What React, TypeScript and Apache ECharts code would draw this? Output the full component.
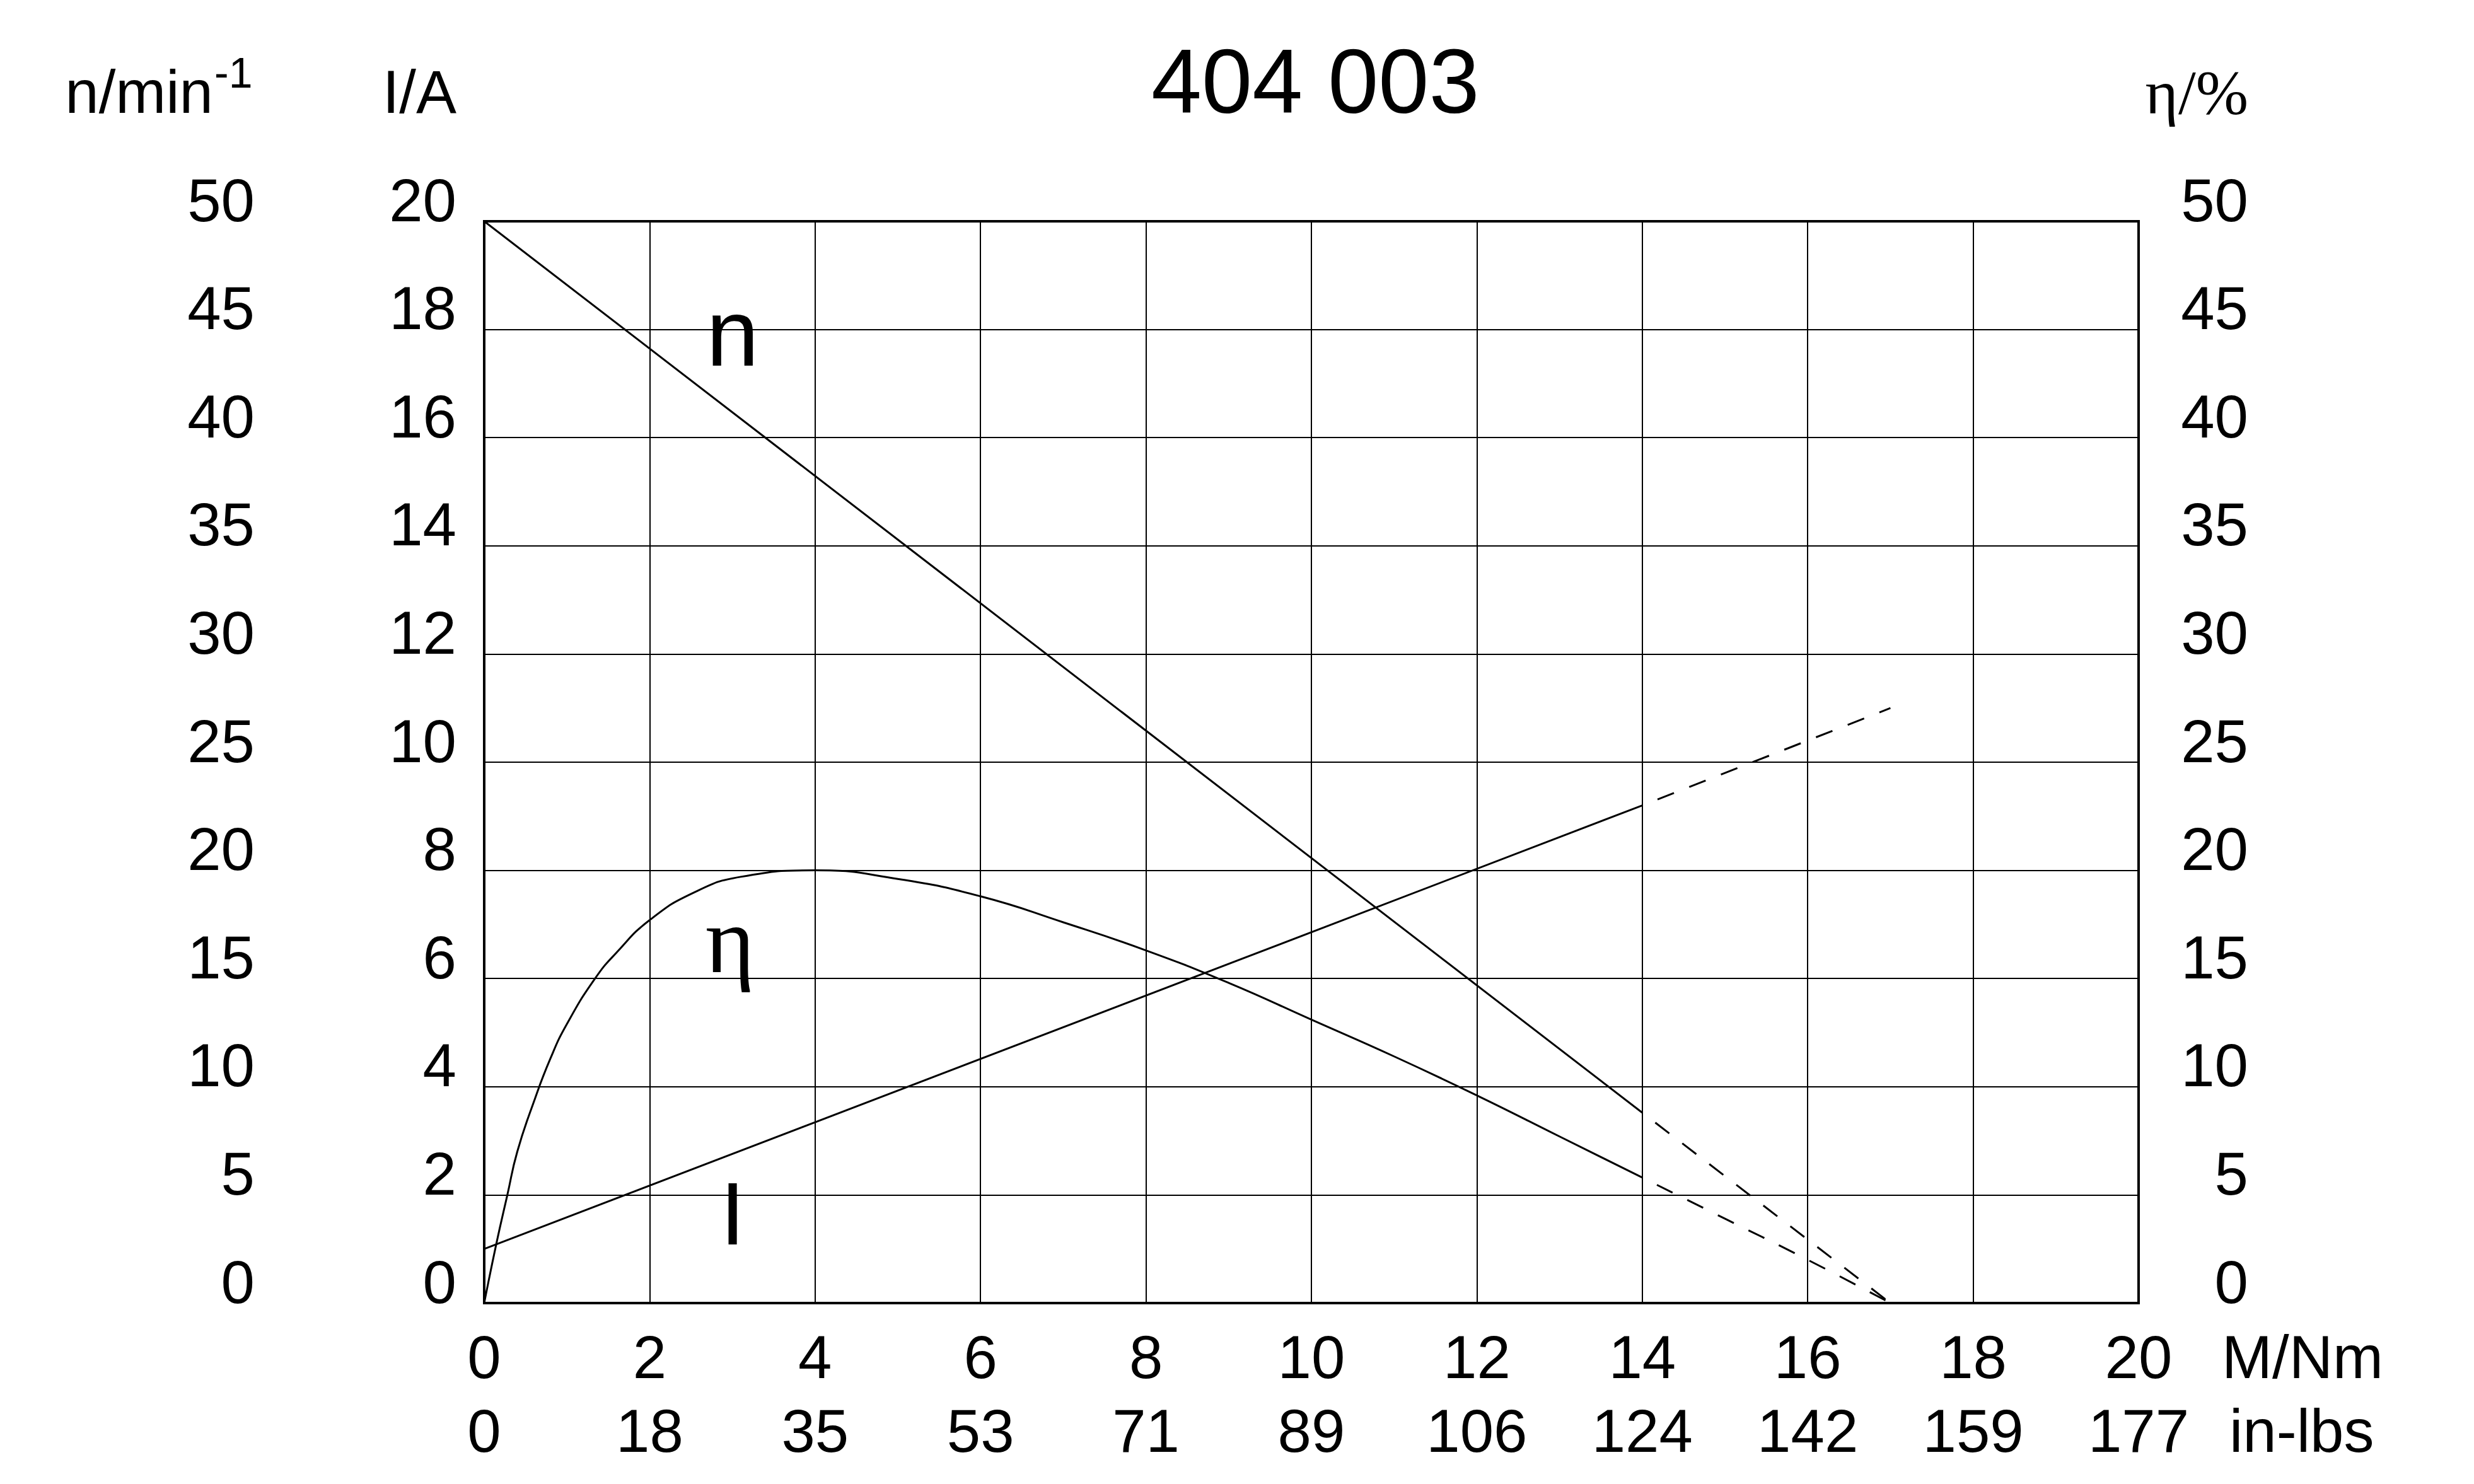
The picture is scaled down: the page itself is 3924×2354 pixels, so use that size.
import React, { useEffect, useRef } from 'react';
import * as echarts from 'echarts';

// ---- data ----
const torqueMin = 0;
const torqueMax = 20;
const torqueStep = 2;
const inLbsLabels = ['0', '18', '35', '53', '71', '89', '106', '124', '142', '159', '177'];

// speed n / min^-1 (left outer axis, 0..50)
const speedSolid = [[0, 50], [14, 8.8]];
const speedDashed = [[14, 8.8], [17, 0]];

// current I / A (left inner axis, 0..20)
const currentSolid = [[0, 1.0], [14, 9.2]];
const currentDashed = [[14, 9.2], [17, 11.0]];

// efficiency eta / % (right axis, 0..50)
const effSolid = [
  [0, 0], [0.15, 2.8], [0.28, 5.0], [0.4, 7.0], [0.6, 9.3], [0.8, 11.3], [1.0, 12.9],
  [1.34, 15.0], [1.6, 16.2], [2.0, 17.7], [2.55, 19.0], [3.1, 19.7], [4, 20.0],
  [5, 19.6], [6, 18.8], [7, 17.6], [8, 16.3], [9, 14.8], [10, 13.1], [11, 11.4],
  [12, 9.6], [13, 7.7], [14, 5.8],
];
const effDashed = [[14, 5.8], [15, 3.9], [16, 2.0], [17, 0]];

const FONT = 'Liberation Sans, Arial, sans-serif';
const SERIF = 'Liberation Serif, Times New Roman, serif';
const BLACK = '#000';

export default function App() {
  const ref = useRef<HTMLDivElement>(null);

  useEffect(() => {
    if (!ref.current) return;
    const chart = echarts.init(ref.current, undefined, { renderer: 'svg' });

    const labelBase = { color: BLACK, fontFamily: FONT, fontSize: 96 };
    const yLabel = (margin: number, align: string) => ({
      ...labelBase,
      margin,
      align,
      verticalAlign: 'bottom',
      lineHeight: 68,
    });
    const solid = { color: BLACK, width: 3, type: 'solid' };
    const dashed = { color: BLACK, width: 3, type: [28, 26], dashOffset: 28 };

    chart.setOption({
      animation: false,
      backgroundColor: '#fff',
      title: {
        text: '404 003',
        left: 1826,
        top: 57,
        padding: 0,
        textStyle: { color: BLACK, fontFamily: FONT, fontSize: 144, fontWeight: 'normal' },
      },
      grid: {
        left: 768,
        top: 351,
        width: 2624,
        height: 1716,
        show: true,
        borderColor: BLACK,
        borderWidth: 4,
        backgroundColor: 'transparent',
      },
      xAxis: [
        {
          type: 'value',
          min: torqueMin,
          max: torqueMax,
          interval: torqueStep,
          position: 'bottom',
          axisLine: { show: false },
          axisTick: { show: false },
          splitLine: { show: true, lineStyle: { color: BLACK, width: 2 } },
          axisLabel: { ...labelBase, margin: 85, verticalAlign: 'middle' },
        },
        {
          type: 'value',
          min: torqueMin,
          max: torqueMax,
          interval: torqueStep,
          position: 'bottom',
          axisLine: { show: false },
          axisTick: { show: false },
          splitLine: { show: false },
          axisLabel: {
            ...labelBase,
            margin: 202,
            verticalAlign: 'middle',
            formatter: (v: number) => inLbsLabels[Math.round(v / torqueStep)] ?? '',
          },
        },
      ],
      yAxis: [
        {
          type: 'value',
          min: 0,
          max: 50,
          interval: 5,
          position: 'left',
          axisLine: { show: false },
          axisTick: { show: false },
          splitLine: { show: true, lineStyle: { color: BLACK, width: 2 } },
          axisLabel: yLabel(364, 'right'),
        },
        {
          type: 'value',
          min: 0,
          max: 20,
          interval: 2,
          position: 'left',
          axisLine: { show: false },
          axisTick: { show: false },
          splitLine: { show: false },
          axisLabel: yLabel(44, 'right'),
        },
        {
          type: 'value',
          min: 0,
          max: 50,
          interval: 5,
          position: 'right',
          axisLine: { show: false },
          axisTick: { show: false },
          splitLine: { show: false },
          axisLabel: yLabel(174, 'right'),
        },
      ],
      series: [
        { name: 'n', type: 'line', xAxisIndex: 0, yAxisIndex: 0, data: speedSolid, symbol: 'none', lineStyle: solid },
        { name: 'n ext', type: 'line', xAxisIndex: 0, yAxisIndex: 0, data: speedDashed, symbol: 'none', lineStyle: dashed },
        { name: 'I', type: 'line', xAxisIndex: 0, yAxisIndex: 1, data: currentSolid, symbol: 'none', lineStyle: solid },
        { name: 'I ext', type: 'line', xAxisIndex: 0, yAxisIndex: 1, data: currentDashed, symbol: 'none', lineStyle: dashed },
        { name: 'η', type: 'line', xAxisIndex: 0, yAxisIndex: 2, data: effSolid, symbol: 'none', smooth: 0.5, lineStyle: solid },
        { name: 'η ext', type: 'line', xAxisIndex: 0, yAxisIndex: 2, data: effDashed, symbol: 'none', smooth: 0.5, lineStyle: dashed },
      ],
      graphic: [
        { type: 'text', x: 338, y: 145, style: { text: 'n/min', fill: BLACK, font: `96px ${FONT}`, align: 'right', verticalAlign: 'middle' } },
        { type: 'text', x: 340, y: 115, style: { text: '-1', fill: BLACK, font: `68px ${FONT}`, align: 'left', verticalAlign: 'middle' } },
        { type: 'text', x: 724, y: 145, style: { text: 'I/A', fill: BLACK, font: `96px ${FONT}`, align: 'right', verticalAlign: 'middle' } },
        { type: 'text', x: 3566, y: 146, style: { text: 'η/%', fill: BLACK, font: `100px ${SERIF}`, align: 'right', verticalAlign: 'middle' } },
        { type: 'text', x: 3524, y: 2152, style: { text: 'M/Nm', fill: BLACK, font: `96px ${FONT}`, align: 'left', verticalAlign: 'middle' } },
        { type: 'text', x: 3536, y: 2269, style: { text: 'in-lbs', fill: BLACK, font: `96px ${FONT}`, align: 'left', verticalAlign: 'middle' } },
        { type: 'text', x: 1162, y: 528, style: { text: 'n', fill: BLACK, font: `150px ${FONT}`, align: 'center', verticalAlign: 'middle' } },
        { type: 'text', x: 1158, y: 1491, style: { text: 'η', fill: BLACK, font: `150px ${SERIF}`, align: 'center', verticalAlign: 'middle' } },
        { type: 'text', x: 1162, y: 1925, style: { text: 'I', fill: BLACK, font: `141px ${FONT}`, align: 'center', verticalAlign: 'middle' } },
      ],
    });

    return () => chart.dispose();
  }, []);

  return (
    <div
      ref={ref}
      style={{ position: 'fixed', left: 0, top: 0, width: 3924, height: 2354, background: '#fff' }}
    />
  );
}
